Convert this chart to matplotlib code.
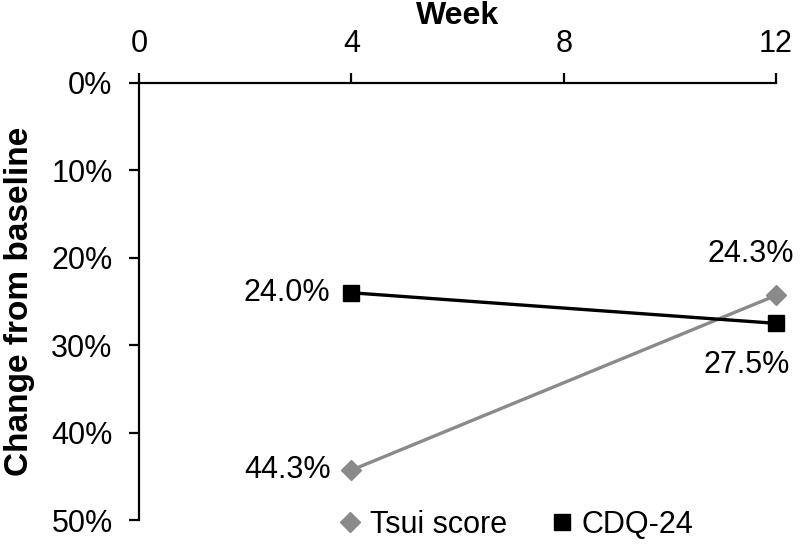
import matplotlib
matplotlib.use("Agg")
import matplotlib.pyplot as plt
from matplotlib.ticker import FuncFormatter

weeks = [4, 12]
tsui = [44.3, 24.3]
cdq = [24.0, 27.5]
x_ticks = [0, 4, 8, 12]
y_ticks = [0, 10, 20, 30, 40, 50]

plt.rcParams['font.family'] = ['Liberation Sans', 'DejaVu Sans']

fig = plt.figure(figsize=(8, 5.48), dpi=100)
ax = fig.add_axes([139 / 800, 1 - 520 / 548, 637 / 800, 437 / 548])

ax.plot(weeks, tsui, color='#8a8a8a', lw=2.4, marker='D', ms=10.5, label='Tsui score', clip_on=False)
ax.plot(weeks, cdq, color='black', lw=2.4, marker='s', ms=11.5, label='CDQ-24', clip_on=False)

ax.set_xlim(0, 12)
ax.set_ylim(50, 0)
ax.set_xticks(x_ticks)
ax.set_yticks(y_ticks)
ax.yaxis.set_major_formatter(FuncFormatter(lambda v, p: f"{v:.0f}%"))
ax.xaxis.tick_top()
ax.xaxis.set_label_position('top')
ax.spines['right'].set_visible(False)
ax.spines['bottom'].set_visible(False)
for s in ['left', 'top']:
    ax.spines[s].set_linewidth(1.6)
ax.tick_params(axis='x', direction='out', length=7, width=1.6, labelsize=22, pad=10)
ax.tick_params(axis='y', direction='out', length=7, width=1.6, labelsize=22, pad=12)
ax.set_xlabel('Week', fontsize=23, fontweight='bold', labelpad=4)
ax.set_ylabel('Change from baseline', fontsize=24, fontweight='bold', labelpad=12)

# data labels
ax.annotate(f"{tsui[0]:.1f}%", (weeks[0], tsui[0]), xytext=(-15, 0), textcoords='offset points',
            ha='right', va='center', fontsize=22)
ax.annotate(f"{tsui[1]:.1f}%", (weeks[1], tsui[1]), xytext=(13, 19), textcoords='offset points',
            ha='right', va='bottom', fontsize=22)
ax.annotate(f"{cdq[0]:.1f}%", (weeks[0], cdq[0]), xytext=(-15, 0), textcoords='offset points',
            ha='right', va='center', fontsize=22)
ax.annotate(f"{cdq[1]:.1f}%", (weeks[1], cdq[1]), xytext=(10, -19), textcoords='offset points',
            ha='right', va='top', fontsize=22)

handles, labels = ax.get_legend_handles_labels()
leg = fig.legend(handles, labels, loc='center', bbox_to_anchor=(517 / 800, 1 - 525 / 548), ncol=2,
                 frameon=False, fontsize=22, handlelength=0.6, handletextpad=0.35,
                 columnspacing=1.5, borderpad=0, borderaxespad=0)
for h in leg.legend_handles:
    h.set_linestyle('none')

fig.savefig('out.png', dpi=100)
